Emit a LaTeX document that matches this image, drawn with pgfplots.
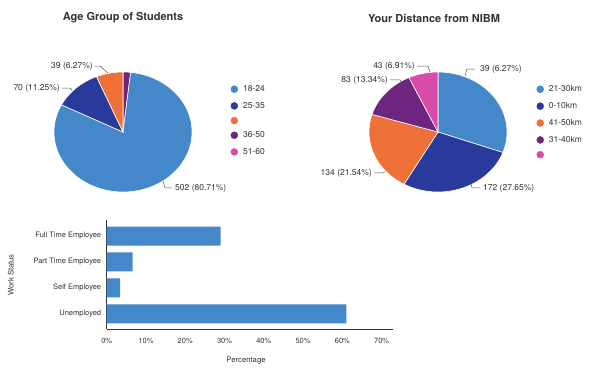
\documentclass[border=0pt]{standalone}
\usepackage{pgfplots}
\pgfplotsset{compat=1.18}
\usepackage{fontspec}
\setmainfont{TeX Gyre Heros}
\definecolor{cblue}{HTML}{4588CA}
\definecolor{cdark}{HTML}{2A3A9A}
\definecolor{corange}{HTML}{F0703A}
\definecolor{cpurple}{HTML}{6E2580}
\definecolor{cpink}{HTML}{D94BA8}
\definecolor{ctext}{HTML}{333333}
\definecolor{cline}{HTML}{555555}
% slice: colour, cumulative count before, count, total (clockwise from 12 o'clock)
\newcommand{\slice}[4]{%
  \fill[#1, draw=white, line width=0.6pt] (axis cs:0,0) --
   (axis cs:{cos(90-360*(#2/#4))},{sin(90-360*(#2/#4))})
   arc[start angle={90-360*(#2/#4)}, end angle={90-360*((#2+#3)/#4)}, x radius=69pt, y radius=60pt] -- cycle;}
\tikzset{
  lbl/.style={font=\fontsize{8.5}{10}\selectfont, text=ctext, inner sep=0pt},
  ldr/.style={cline, line width=0.5pt},
}
\pgfplotsset{
  pieaxis/.style={scale only axis, width=138pt, height=120pt,
    xmin=-1, xmax=1, ymin=-1, ymax=1, hide axis, clip=false,
    title style={font=\fontsize{11}{13}\selectfont\bfseries, text=ctext, anchor=center},
    legend style={draw=none, fill=none, inner sep=0pt, outer sep=0pt, anchor=north west,
      font=\fontsize{8.5}{10}\selectfont, text=ctext, row sep=5.2pt,
      /tikz/every odd column/.append style={column sep=3pt}},
    legend cell align=left,
    legend image code/.code={\fill[##1] (0pt,0pt) circle (3.5pt);},
  },
}
\begin{document}
\begin{tikzpicture}
\useasboundingbox (0,0) rectangle (600pt,-378pt);
% ---------- Age group pie ----------
\begin{axis}[pieaxis, anchor=south west, at={(54pt,-192pt)},
  title={Age Group of Students}, title style={at={(0.5,1.40)}},
  legend style={at={(1.28,0.905)}}]
\slice{cpurple}{0}{11}{622}
\slice{cblue}{11}{502}{622}
\slice{cdark}{513}{70}{622}
\slice{corange}{583}{39}{622}
\addlegendimage{cblue}\addlegendentry{18-24}
\addlegendimage{cdark}\addlegendentry{25-35}
\addlegendimage{corange}\addlegendentry{\mbox{}}
\addlegendimage{cpurple}\addlegendentry{36-50}
\addlegendimage{cpink}\addlegendentry{51-60}
\draw[ldr] (axis cs:-0.406,1.10) -- (axis cs:-0.333,1.10) -- (axis cs:-0.217,0.983);
\node[lbl, anchor=east] at (axis cs:-0.435,1.10) {39 (6.27\%)};
\draw[ldr] (axis cs:-0.884,0.733) -- (axis cs:-0.768,0.733) -- (axis cs:-0.739,0.70);
\node[lbl, anchor=east] at (axis cs:-0.913,0.733) {70 (11.25\%)};
\draw[ldr] (axis cs:0.580,-0.817) -- (axis cs:0.609,-0.933) -- (axis cs:0.710,-0.933);
\node[lbl, anchor=west] at (axis cs:0.754,-0.933) {502 (80.71\%)};
\end{axis}
% ---------- Distance pie ----------
\begin{axis}[pieaxis, anchor=south west, at={(369pt,-192pt)},
  title={Your Distance from NIBM}, title style={at={(0.471,1.40)}},
  legend style={at={(1.214,0.905)}}]
\slice{cblue}{0}{190}{622}
\slice{cdark}{190}{172}{622}
\slice{corange}{362}{134}{622}
\slice{cpurple}{496}{83}{622}
\slice{cpink}{579}{43}{622}
\addlegendimage{cblue}\addlegendentry{21-30km}
\addlegendimage{cdark}\addlegendentry{0-10km}
\addlegendimage{corange}\addlegendentry{41-50km}
\addlegendimage{cpurple}\addlegendentry{31-40km}
\addlegendimage{cpink}\addlegendentry{\mbox{}}
\draw[ldr] (axis cs:0.391,0.933) -- (axis cs:0.420,1.05) -- (axis cs:0.536,1.05);
\node[lbl, anchor=west] at (axis cs:0.609,1.05) {39 (6.27\%)};
\draw[ldr] (axis cs:-0.304,1.10) -- (axis cs:-0.145,1.10) -- (axis cs:-0.116,1.0);
\node[lbl, anchor=east] at (axis cs:-0.333,1.10) {43 (6.91\%)};
\draw[ldr] (axis cs:-0.696,0.867) -- (axis cs:-0.551,0.867) -- (axis cs:-0.522,0.817);
\node[lbl, anchor=east] at (axis cs:-0.725,0.867) {83 (13.34\%)};
\draw[ldr] (axis cs:-0.928,-0.683) -- (axis cs:-0.797,-0.683) -- (axis cs:-0.768,-0.662);
\node[lbl, anchor=east] at (axis cs:-0.957,-0.683) {134 (21.54\%)};
\draw[ldr] (axis cs:0.478,-0.85) -- (axis cs:0.493,-0.933) -- (axis cs:0.609,-0.933);
\node[lbl, anchor=west] at (axis cs:0.652,-0.933) {172 (27.65\%)};
\end{axis}
% ---------- Work status bars ----------
\begin{axis}[scale only axis, width=286.3pt, height=109.3pt,
  anchor=south west, at={(106.7pt,-329.3pt)},
  xmin=0, xmax=72.9, ymin=-0.6, ymax=3.62,
  axis x line*=bottom, axis y line*=left,
  axis line style={-, line width=0.9pt, color=ctext},
  major tick length=0pt,
  xtick={0,10,20,30,40,50,60,70},
  xticklabels={0\%,10\%,20\%,30\%,40\%,50\%,60\%,70\%},
  ytick={0,1,2,3},
  yticklabels={Unemployed,Self Employee,Part Time Employee,Full Time Employee},
  tick label style={font=\fontsize{7.5}{9}\selectfont, text=ctext},
  xticklabel style={yshift=-5pt},
  yticklabel style={xshift=-2pt},
  xlabel={Percentage}, ylabel={Work Status},
  label style={font=\fontsize{7.7}{9}\selectfont, text=ctext},
  xlabel style={at={(axis description cs:0.4866,-0.2836)}, anchor=center},
  ylabel style={at={(axis description cs:-0.3353,0.4968)}, anchor=center, rotate=0},
]
\addplot[xbar, fill=cblue, draw=none, bar width=19pt] coordinates {(61.0,0) (3.4,1) (6.6,2) (29.0,3)};
\end{axis}
\end{tikzpicture}
\end{document}
